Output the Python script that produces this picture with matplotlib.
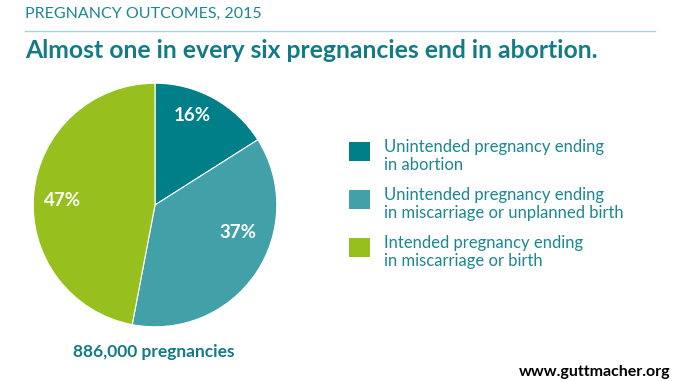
import numpy as np
import matplotlib.pyplot as plt
from matplotlib.patches import Rectangle

plt.rcParams['font.family'] = ['Lato', 'DejaVu Sans']

labels = ["Unintended pregnancy ending\nin abortion",
          "Unintended pregnancy ending\nin miscarriage or unplanned birth",
          "Intended pregnancy ending\nin miscarriage or birth"]
shares = [16, 37, 47]
colors = ["#007f89", "#42a0a8", "#97bf1e"]
teal = "#1b8791"

W, H = 678, 381
fig = plt.figure(figsize=(W / 100, H / 100), dpi=100)

# pie axes placed in pixel terms: centre (155, 205), radius ~123
cx, cy, r = 155, 205, 123
ax = fig.add_axes([(cx - r) / W, (H - cy - r) / H, 2 * r / W, 2 * r / H])
wedges, texts, autotexts = ax.pie(
    shares, colors=colors, startangle=90, counterclock=False,
    autopct='%d%%', pctdistance=0.76,
    wedgeprops=dict(edgecolor='white', linewidth=0.8))

# the original nudges each label off the wedge middle a bit
angle_shift = [6, 16, 2.5]
label_dist = [0.80, 0.72, 0.76]
for w, t, da, d in zip(wedges, autotexts, angle_shift, label_dist):
    mid = np.deg2rad((w.theta1 + w.theta2) / 2 + da)
    t.set_position((d * np.cos(mid), d * np.sin(mid)))
    t.set_color('white')
    t.set_fontweight('bold')
    t.set_fontsize(13.5)
ax.set_xlim(-1.01, 1.01)
ax.set_ylim(-1.01, 1.01)
ax.set_aspect('equal')

# header
fig.text(25 / W, 1 - 14 / H, "PREGNANCY OUTCOMES, 2015", color=teal,
         fontsize=11.5, fontweight='normal', va='center', ha='left')
fig.add_artist(plt.Line2D([25 / W, 655 / W], [1 - 31 / H, 1 - 31 / H],
                          color='#a9d3d8', linewidth=1))
fig.text(25 / W, 1 - 50 / H, "Almost one in every six pregnancies end in abortion.",
         color='#137b86', fontsize=17.8, fontweight='bold', va='center', ha='left')

# legend
ys = [152, 200, 248]
for lab, col, y in zip(labels, colors, ys):
    fig.add_artist(Rectangle((349 / W, 1 - (y + 9) / H), 21 / W, 19 / H,
                             transform=fig.transFigure, facecolor=col,
                             edgecolor='none'))
    fig.text(384 / W, 1 - (y + 4) / H, lab, color=teal, fontsize=12,
             va='center', ha='left', linespacing=1.1)

fig.text(73 / W, 1 - 352 / H, "886,000 pregnancies", color='#137b86',
         fontsize=12.5, fontweight='bold', va='center', ha='left')
fig.text(670 / W, 1 - 372 / H, "www.guttmacher.org", color='black',
         fontsize=11.5, fontweight='bold', va='center', ha='right')

fig.savefig("out.png", dpi=100, facecolor='white')
